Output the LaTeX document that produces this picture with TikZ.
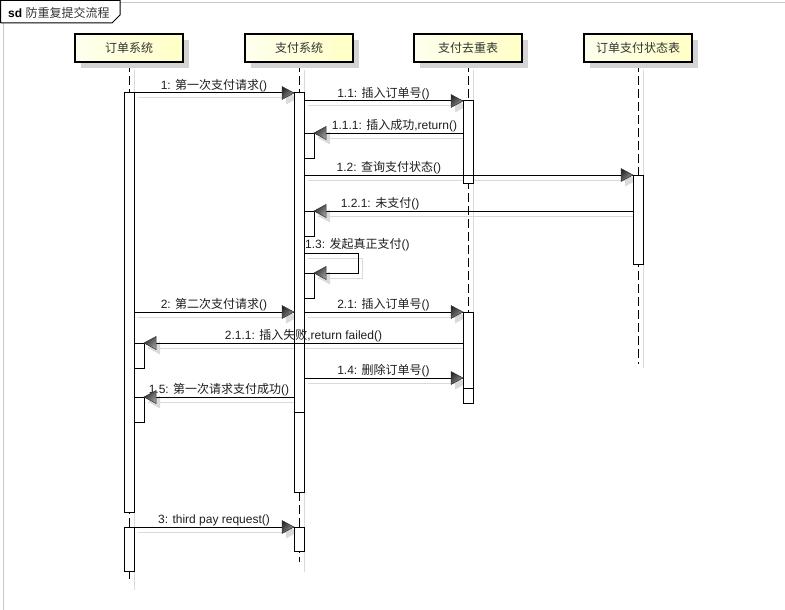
\documentclass[tikz,border=0pt]{standalone}
\usepackage{fontspec}
\setmainfont{Liberation Sans}
\newfontfamily\cjk{Noto Sans CJK SC}
\usetikzlibrary{shadows,shadings}
\pgfdeclarelayer{shad}
\pgfdeclarelayer{top}
\pgfsetlayers{shad,main,top}
\definecolor{boxA}{HTML}{FFFFEE}
\definecolor{boxB}{HTML}{FFFFC6}
\definecolor{shadowc}{HTML}{D4D4D4}
\definecolor{lshadowc}{HTML}{DADADA}
\definecolor{framec}{HTML}{C8C8C8}
\definecolor{lblc}{HTML}{1E1E1E}
\tikzset{
  headbox/.style={draw=black, line width=2pt, minimum width=108pt, minimum height=28pt,
    left color=boxA, right color=boxB,
    general shadow={fill=shadowc, shadow xshift=6pt, shadow yshift=-6pt},
    font=\fontsize{12}{14}\selectfont\cjk, text=black!80, inner sep=0pt},
  lifeline/.style={draw=black, line width=1pt, dash pattern=on 9pt off 4pt},
  lifeshadow/.style={draw=lshadowc, line width=1pt},
  bar/.style={draw=black, fill=white, line width=1pt},
  msgline/.style={draw=black, line width=1pt},
  msgshadow/.style={draw=lshadowc, line width=1pt},
  msglabel/.style={anchor=base, yshift=3.5pt, inner sep=0pt,
    font=\fontsize{12}{14}\selectfont, text=lblc},
  headR/.pic={\shade[upper left=black!90, upper right=black!62, lower left=black!62,
      lower right=black!30, draw=black!80, line width=0.5pt]
      (0,0) -- (-12,-6.5) -- (-12,6.5) -- cycle;},
  headL/.pic={\shade[upper left=black!90, upper right=black!62, lower left=black!62,
      lower right=black!30, draw=black!80, line width=0.5pt]
      (0,0) -- (12,-6.5) -- (12,6.5) -- cycle;},
  headRs/.pic={\fill[lshadowc] (0,0) -- (-12,-6.5) -- (-12,6.5) -- cycle;},
  headLs/.pic={\fill[lshadowc] (0,0) -- (12,-6.5) -- (12,6.5) -- cycle;},
}
\newcommand\msgR[4][0.5]{%
  \begin{pgfonlayer}{shad}
    \draw[msgshadow] ([shift={(4pt,-5pt)}]#2) -- ([shift={(4pt,-5pt)}]#3);
    \pic at ([shift={(4pt,-5pt)}]#3) {headRs};
  \end{pgfonlayer}
  \begin{pgfonlayer}{top}
    \draw[msgline] (#2) -- node[msglabel, pos=#1] {#4} (#3);
    \pic at (#3) {headR};
  \end{pgfonlayer}}
\newcommand\msgL[4][0.5]{%
  \begin{pgfonlayer}{shad}
    \draw[msgshadow] ([shift={(4pt,-5pt)}]#2) -- ([shift={(4pt,-5pt)}]#3);
    \pic at ([shift={(4pt,-5pt)}]#3) {headLs};
  \end{pgfonlayer}
  \begin{pgfonlayer}{top}
    \draw[msgline] (#2) -- node[msglabel, pos=#1] {#4} (#3);
    \pic at (#3) {headL};
  \end{pgfonlayer}}
\begin{document}
\begin{tikzpicture}[x=1pt,y=-1pt]
\useasboundingbox (0,0) rectangle (785,610);

% frame
\draw[framec, line width=1pt] (120,2.5) -- (785,2.5);
\draw[framec, line width=1pt] (3.5,23) -- (3.5,610);
\draw[black, line width=1pt] (0.5,23) -- (0.5,0.5) -- (120,0.5) -- (120,15) -- (112,23) -- (0.5,23);
\node[anchor=base west, inner sep=0pt, font=\fontsize{12}{14}\selectfont, text=black] (title) at (8,17.5)
  {\textbf{sd} {\cjk\color{black!80}防重复提交流程}};

% lifeline heads
\node[headbox] (h1) at (129,48) {订单系统};
\node[headbox] (h2) at (299,48) {支付系统};
\node[headbox] (h3) at (468,48) {支付去重表};
\node[headbox] (h4) at (638,48) {订单支付状态表};

\coordinate (e1) at (129,580); \coordinate (s1) at (134,590);
\coordinate (e2) at (299,562); \coordinate (s2) at (304,572);
\coordinate (e3) at (468,366); \coordinate (s3) at (473,370);
\coordinate (e4) at (638,364); \coordinate (s4) at (643,368);

\begin{pgfonlayer}{shad}
  \draw[lifeshadow] ([xshift=5pt,yshift=-7pt]h1.south) -- (s1);
  \draw[lifeshadow] ([xshift=5pt,yshift=-7pt]h2.south) -- (s2);
  \draw[lifeshadow] ([xshift=5pt,yshift=-7pt]h3.south) -- (s3);
  \draw[lifeshadow] ([xshift=5pt,yshift=-7pt]h4.south) -- (s4);
  \draw[lifeline] (h1.south) -- (e1);
  \draw[lifeline] (h2.south) -- (e2);
  \draw[lifeline] (h3.south) -- (e3);
  \draw[lifeline] (h4.south) -- (e4);
\end{pgfonlayer}

% activation bars
\draw[bar] (124,93) rectangle (134,512);
\draw[bar] (134,343) rectangle (144,368);
\draw[bar] (134,397) rectangle (144,422);
\draw[bar] (124,527) rectangle (134,571);

\draw[bar] (294,312) rectangle (304,492);
\draw[bar] (294,93) rectangle (304,412);
\draw[bar] (304,133) rectangle (314,158);
\draw[bar] (304,211) rectangle (314,236);
\draw[bar] (304,273) rectangle (314,298);
\draw[bar] (294,527) rectangle (304,551);

\draw[bar] (463,101) rectangle (473,183);
\draw[bar] (463,378) rectangle (473,403);
\draw[bar] (463,312) rectangle (473,388);

\draw[bar] (633,175) rectangle (643,264);

% message end points
\coordinate (m1s) at (134,93);   \coordinate (m1e) at (294,93);
\coordinate (m11s) at (304,101); \coordinate (m11e) at (463,101);
\coordinate (m111s) at (463,133); \coordinate (m111e) at (314,133);
\coordinate (m12s) at (304,175); \coordinate (m12e) at (633,175);
\coordinate (m121s) at (633,211); \coordinate (m121e) at (314,211);
\coordinate (m13a) at (304,253); \coordinate (m13b) at (358,253);
\coordinate (m13c) at (358,273); \coordinate (m13d) at (314,273);
\coordinate (m2s) at (134,312);  \coordinate (m2e) at (294,312);
\coordinate (m21s) at (304,312); \coordinate (m21e) at (463,312);
\coordinate (m211s) at (463,343); \coordinate (m211e) at (144,343);
\coordinate (m14s) at (304,378); \coordinate (m14e) at (463,378);
\coordinate (m15s) at (294,397); \coordinate (m15e) at (144,397);
\coordinate (m3s) at (134,527);  \coordinate (m3e) at (294,527);

% messages
\msgR{m1s}{m1e}{1: {\cjk 第一次支付请求}()}
\msgR{m11s}{m11e}{1.1: {\cjk 插入订单号}()}
\msgL[0.46]{m111s}{m111e}{1.1.1: {\cjk 插入成功},return()}
\msgR[0.258]{m12s}{m12e}{1.2: {\cjk 查询支付状态}()}
\msgL[0.793]{m121s}{m121e}{1.2.1: {\cjk 未支付}()}

% self call 1.3
\begin{pgfonlayer}{shad}
  \draw[msgshadow] ([shift={(4pt,-5pt)}]m13a) -- ([shift={(4pt,-5pt)}]m13b)
    -- ([shift={(4pt,-5pt)}]m13c) -- ([shift={(4pt,-5pt)}]m13d);
  \pic at ([shift={(4pt,-5pt)}]m13d) {headLs};
\end{pgfonlayer}
\begin{pgfonlayer}{top}
  \draw[msgline] (m13a) -- (m13b) -- (m13c) -- (m13d);
  \pic at (m13d) {headL};
  \node[anchor=base west, inner sep=0pt, font=\fontsize{12}{14}\selectfont, text=lblc]
    (l13) at (305,248.5) {1.3: {\cjk 发起真正支付}()};
\end{pgfonlayer}

\msgR{m2s}{m2e}{2: {\cjk 第二次支付请求}()}
\msgR{m21s}{m21e}{2.1: {\cjk 插入订单号}()}
\msgL{m211s}{m211e}{2.1.1: {\cjk 插入失败},return failed()}
\msgR{m14s}{m14e}{1.4: {\cjk 删除订单号}()}
\msgL{m15s}{m15e}{1.5: {\cjk 第一次请求支付成功}()}
\msgR{m3s}{m3e}{3: third pay request()}

\end{tikzpicture}
\end{document}
